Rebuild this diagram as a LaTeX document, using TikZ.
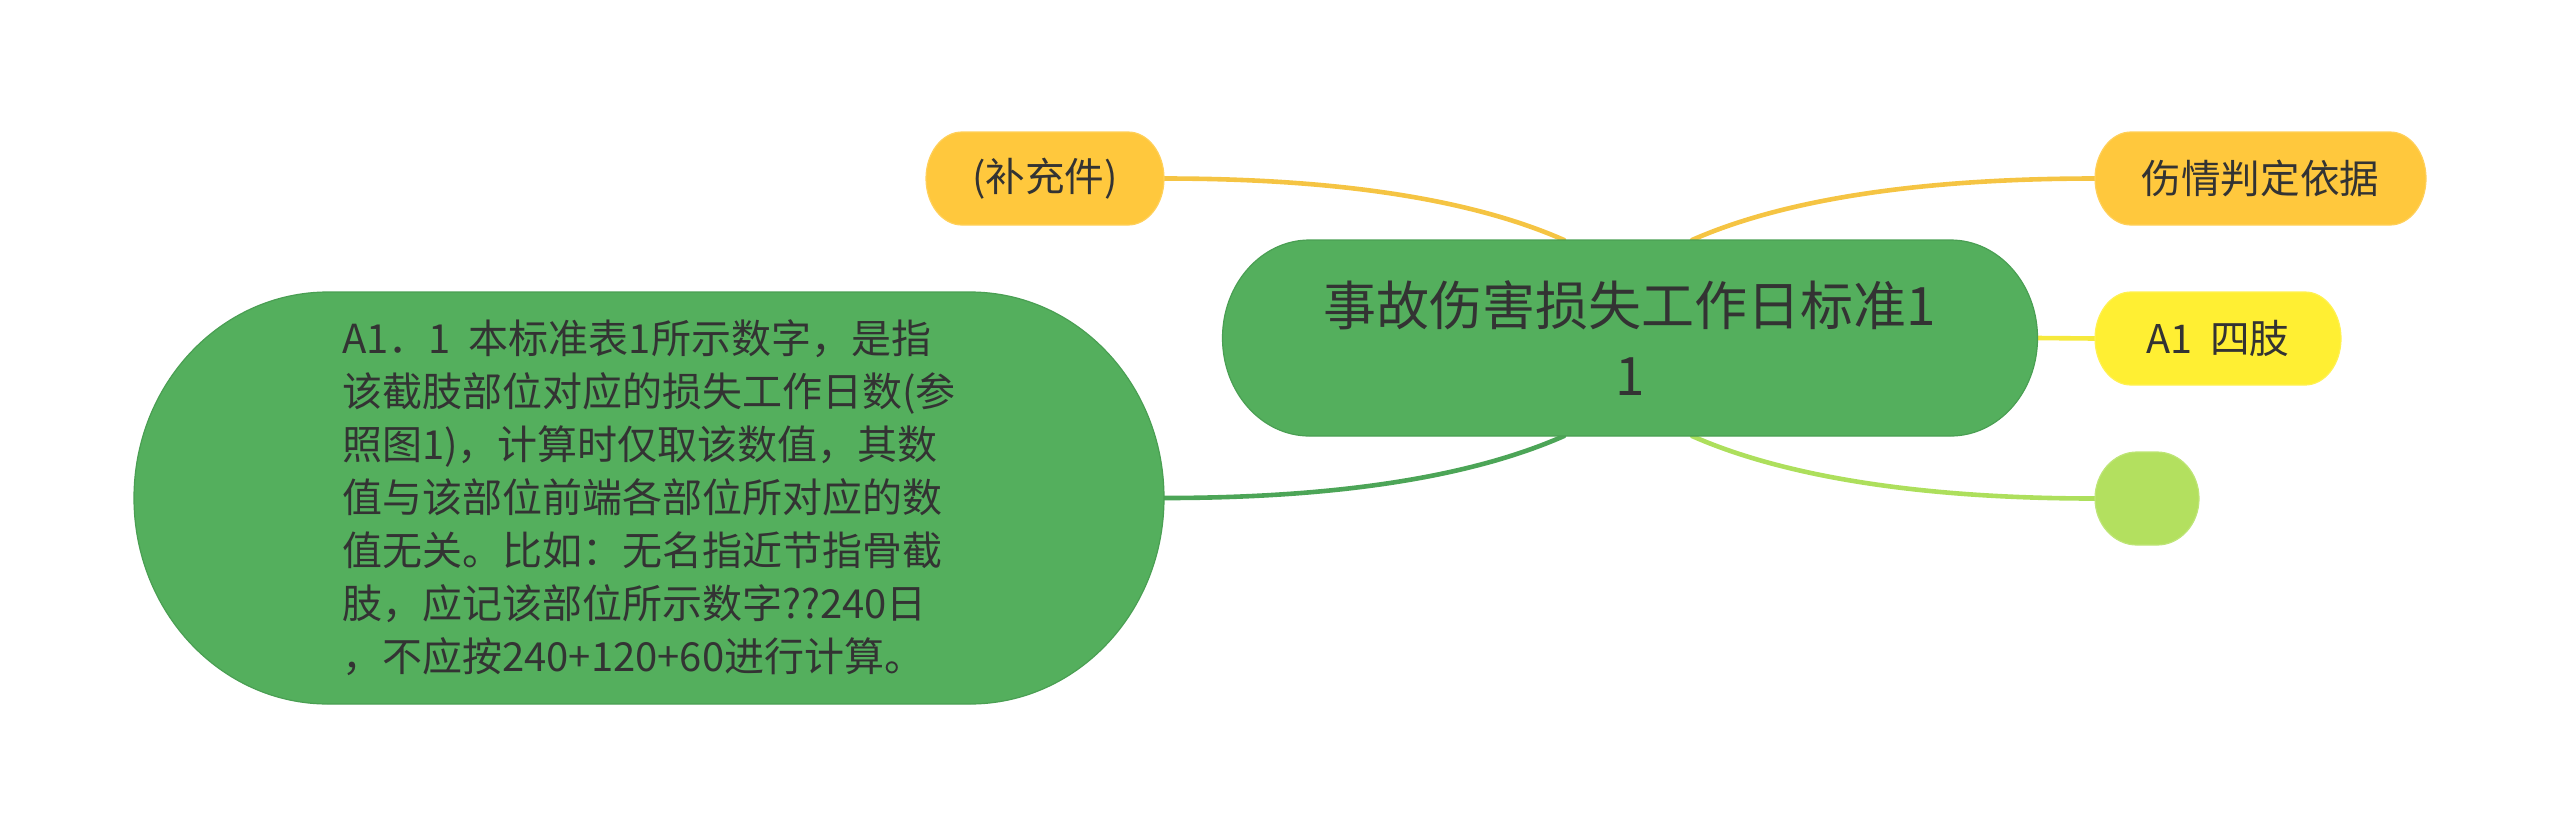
\documentclass[tikz,border=0pt]{standalone}
\usepackage{fontspec}
\newfontfamily\cjk{Noto Sans CJK SC}
\definecolor{txt}{HTML}{333333}
\definecolor{gmain}{HTML}{54AF5D}
\definecolor{gborder}{HTML}{4A9F53}
\definecolor{orng}{HTML}{FFC83D}
\definecolor{orngline}{HTML}{F5C443}
\definecolor{yell}{HTML}{FFEF33}
\definecolor{yellline}{HTML}{F6E93C}
\definecolor{lgreen}{HTML}{B3E05F}
\definecolor{lgreenline}{HTML}{ADDF5C}
\definecolor{gline}{HTML}{4CA557}
\pgfdeclarelayer{lines}
\pgfdeclarelayer{shapes}
\pgfsetlayers{lines,shapes,main}
% pill with elliptical ends around a node: #1 node, #2 rx, #3 ry, #4 fill, #5 border
\newcommand\pillaround[5]{%
  \path[fill=#4, draw=#5, line width=0.6pt]
    ([xshift=#2]#1.north west) -- ([xshift=-#2]#1.north east)
    arc[start angle=90, end angle=0, x radius=#2, y radius=#3]
    -- ([yshift=#3]#1.south east)
    arc[start angle=0, end angle=-90, x radius=#2, y radius=#3]
    -- ([xshift=#2]#1.south west)
    arc[start angle=270, end angle=180, x radius=#2, y radius=#3]
    -- ([yshift=-#3]#1.north west)
    arc[start angle=180, end angle=90, x radius=#2, y radius=#3]
    -- cycle;}
\tikzset{
  every node/.style={inner sep=0pt, outer sep=0pt, text=txt, font=\cjk},
  rootbox/.style={minimum width=407.5pt, minimum height=98pt, align=center,
    font=\cjk\fontsize{26.5}{35}\selectfont},
  bigbox/.style={minimum width=515pt, minimum height=206pt, align=left,
    font=\cjk\fontsize{20}{26.5}\selectfont},
  leafbox/.style={minimum height=46.5pt, align=center,
    font=\cjk\fontsize{19.8}{26.5}\selectfont},
  conn/.style={line width=2.3pt, line cap=round},
}
\begin{document}
\begin{tikzpicture}[x=0.5pt, y=-0.5pt]
\useasboundingbox (0,0) rectangle (2560,837);
% nodes (text)
\node[rootbox] (root) at (1630,338) {事故伤害损失工作日标准1\\1};
\node[bigbox] (big) at (649,498) {A1．1\ \ 本标准表1所示数字，是指\\该截肢部位对应的损失工作日数(参\\照图1)，计算时仅取该数值，其数\\值与该部位前端各部位所对应的数\\值无关。比如：无名指近节指骨截\\肢，应记该部位所示数字??240日\\，不应按240+120+60进行计算。};
\node[leafbox, minimum width=119pt] (sup) at (1045,178.5) {(补充件)};
\node[leafbox, minimum width=165.5pt] (basis) at (2260.5,178.5) {伤情判定依据};
\node[leafbox, minimum width=123pt] (limb) at (2218,338.5) {A1\ \ 四肢};
\node[leafbox, minimum width=52pt] (empty) at (2147,498.5) {};
% node shapes
\begin{pgfonlayer}{shapes}
\pillaround{root}{43.5pt}{49pt}{gmain}{gborder}
\pillaround{big}{97pt}{103pt}{gmain}{gborder}
\pillaround{sup}{18pt}{23.25pt}{orng}{orng!85!white}
\pillaround{basis}{18pt}{23.25pt}{orng}{orng!85!white}
\pillaround{limb}{18pt}{23.25pt}{yell}{yell!85!white}
\pillaround{empty}{21pt}{23.25pt}{lgreen}{lgreen!85!white}
\end{pgfonlayer}
% connectors
\begin{pgfonlayer}{lines}
\draw[conn, orngline] ([xshift=-33pt]root.north) .. controls +(-93,-41) and +(173,0) .. (sup.east);
\draw[conn, orngline] ([xshift=31pt]root.north) .. controls +(93,-41) and +(-173,0) .. (basis.west);
\draw[conn, yellline] (root.east) -- (limb.west);
\draw[conn, lgreenline] ([xshift=31pt]root.south) .. controls +(93,41) and +(-173,0) .. (empty.west);
\draw[conn, gline] ([xshift=-33pt]root.south) .. controls +(-93,41) and +(173,0) .. (big.east);
\end{pgfonlayer}
\end{tikzpicture}
\end{document}
